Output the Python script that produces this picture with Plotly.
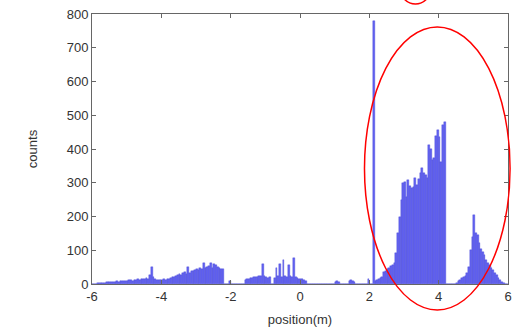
import numpy as np
import plotly.graph_objects as go

# Histogram counts in 0.05 m bins, one list per metre, from -6 m to 6 m
bin_width = 0.05
c_m6 = [0, 0, 1, 2, 3, 3, 4, 4, 5, 5, 6, 5, 7, 6, 8, 7, 9, 8, 10, 9]
c_m5 = [10, 11, 12, 10, 13, 12, 14, 13, 15, 16, 14, 18, 16, 27, 50, 22, 14, 12, 11, 13]
c_m4 = [12, 14, 13, 15, 16, 18, 20, 22, 25, 27, 30, 28, 32, 35, 30, 51, 33, 38, 40, 42]
c_m3 = [44, 42, 48, 45, 63, 47, 50, 52, 61, 48, 60, 55, 50, 47, 45, 43, 0, 0, 0, 8]
c_m2 = [0, 0, 0, 0, 0, 0, 0, 0, 12, 15, 16, 18, 18, 20, 22, 20, 24, 23, 60, 25]
c_m1 = [20, 18, 22, 0, 0, 18, 47, 25, 60, 22, 70, 24, 20, 55, 25, 22, 76, 20, 18, 16]
c_0 = [15, 14, 12, 8, 0, 0, 0, 0, 0, 0, 0, 0, 0, 0, 0, 0, 0, 0, 0, 0]
c_1 = [6, 8, 5, 0, 0, 0, 0, 0, 8, 12, 10, 7, 0, 0, 0, 0, 0, 0, 0, 14]
c_2 = [0, 0, 780, 10, 12, 14, 18, 20, 36, 40, 44, 47, 52, 57, 62, 92, 150, 200, 250, 298]
c_3 = [303, 259, 308, 290, 284, 288, 314, 293, 310, 328, 343, 330, 323, 313, 412, 400, 367, 373, 440, 456]
c_4 = [436, 362, 470, 481, 0, 0, 0, 0, 0, 0, 4, 8, 12, 17, 22, 25, 32, 51, 100, 140]
c_5 = [204, 150, 145, 121, 105, 96, 86, 71, 62, 56, 48, 41, 33, 27, 18, 12, 6, 3, 0, 0]

counts = c_m6 + c_m5 + c_m4 + c_m3 + c_m2 + c_m1 + c_0 + c_1 + c_2 + c_3 + c_4 + c_5
x_start = -6.0
centers = x_start + bin_width * (np.arange(len(counts)) + 0.5)

x_ticks = [-6, -4, -2, 0, 2, 4, 6]
y_ticks = [0, 100, 200, 300, 400, 500, 600, 700, 800]

fig = go.Figure()
fig.add_trace(go.Bar(
    x=centers, y=counts, width=bin_width,
    marker=dict(color="rgb(98,98,242)", line=dict(color="rgb(72,72,215)", width=0.4)),
    showlegend=False,
))

axis_common = dict(
    showline=True, linecolor="#666666", linewidth=1, mirror="ticks",
    ticks="inside", ticklen=4, tickcolor="#666666",
    showgrid=False, zeroline=False,
    tickfont=dict(family="Liberation Sans, Arial, sans-serif", size=13, color="#333333"),
)

fig.update_layout(
    width=517, height=330,
    margin=dict(l=92, r=5, t=14, b=46),
    paper_bgcolor="white", plot_bgcolor="white",
    bargap=0,
    xaxis=dict(range=[-6, 6], tickvals=x_ticks, ticktext=[str(v) for v in x_ticks],
               title=dict(text="position(m)", standoff=12,
                          font=dict(family="Liberation Sans, Arial, sans-serif", size=13, color="#333333")),
               **axis_common),
    yaxis=dict(range=[0, 800], tickvals=y_ticks,
               title=dict(text="counts", standoff=26,
                          font=dict(family="Liberation Sans, Arial, sans-serif", size=13, color="#333333")),
               **axis_common),
)

# red annotation ellipses
fig.add_shape(type="circle", xref="paper", yref="paper",
              x0=0.655, x1=1.005, y0=-0.096, y1=0.952,
              line=dict(color="red", width=1.5), fillcolor="rgba(0,0,0,0)")
fig.add_shape(type="circle", xref="paper", yref="paper",
              x0=0.735, x1=0.82, y0=1.037, y1=1.2,
              line=dict(color="red", width=1.5), fillcolor="rgba(0,0,0,0)")

fig.write_html("out.html")
